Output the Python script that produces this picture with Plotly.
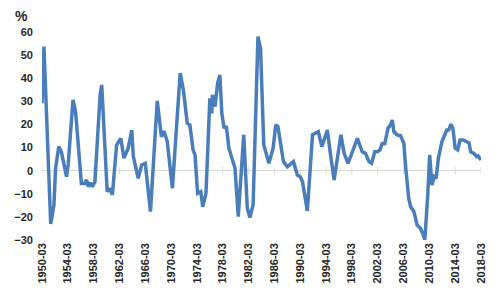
import plotly.graph_objects as go

# decimal-year positions of readings and values (%)
years = [1950.0, 1950.3, 1951.35, 1951.85, 1952.1, 1952.6, 1953.0, 1953.8, 1954.05, 1954.8,
         1955.2, 1956.1, 1956.6, 1956.9, 1957.15, 1957.5, 1957.8, 1958.2, 1959.0, 1959.25,
         1960.1, 1960.5, 1960.9, 1961.55, 1962.2, 1962.7, 1963.35, 1963.9, 1964.15, 1964.9,
         1965.45, 1966.0, 1966.8, 1967.85, 1968.5, 1968.9, 1969.4, 1970.2, 1971.4, 1971.9,
         1972.5, 1972.9, 1973.4, 1973.7, 1974.1, 1974.6, 1974.9, 1975.4, 1976.0, 1976.3,
         1976.4, 1976.8, 1977.2, 1977.55, 1977.85, 1978.2, 1978.55, 1978.95, 1979.9, 1980.4,
         1981.25, 1981.8, 1982.2, 1982.7, 1983.45, 1983.85, 1984.35, 1985.15, 1985.8, 1986.2,
         1986.55, 1987.4, 1988.0, 1988.95, 1989.55, 1990.0, 1990.35, 1991.1, 1991.9, 1992.3,
         1992.8, 1993.35, 1994.2, 1994.7, 1995.25, 1996.3, 1996.8, 1997.4, 1998.1, 1998.85,
         1999.6, 2000.1, 2000.65, 2001.05, 2001.55, 2001.95, 2002.35, 2002.7, 2003.1, 2003.6,
         2004.0, 2004.25, 2004.5, 2005.0, 2005.55, 2006.05, 2006.3, 2006.8, 2007.1, 2007.6,
         2008.1, 2008.6, 2009.05, 2009.3, 2009.75, 2010.05, 2010.4, 2010.75, 2011.05, 2011.4,
         2011.95, 2012.45, 2012.7, 2013.0, 2013.35, 2013.65, 2014.0, 2014.4, 2014.75, 2015.25,
         2015.8, 2016.15, 2016.4, 2016.9, 2017.3, 2017.55, 2018.0]
values = [29.2, 53.7, -23.1, -14.8, 1.0, 10.4, 8.2, -2.6, 2.5, 30.6,
          25.5, -5.5, -5.5, -4.0, -6.9, -5.2, -6.9, -4.8, 32.8, 37.1,
          -9.1, -7.6, -10.5, 11.1, 14.0, 5.4, 9.7, 17.6, 6.1, -3.3,
          2.5, 3.2, -17.7, 30.2, 14.7, 17.2, 12.6, -7.6, 42.2, 34.9,
          20.5, 19.8, 9.0, 6.8, -9.8, -9.1, -15.6, -9.8, 31.3, 24.8,
          32.8, 27.7, 37.8, 41.4, 24.8, 18.4, 19.2, 9.7, 1.0, -19.9,
          15.5, -16.3, -20.3, -14.8, 58.0, 53.0, 11.1, 3.2, 9.7, 19.8,
          19.0, 3.9, 1.7, 3.9, -1.9, -2.6, -4.8, -17.4, 15.5, 16.2,
          16.9, 10.4, 17.6, 6.8, -4.0, 15.5, 7.5, 3.2, 8.2, 14.0,
          8.2, 7.5, 3.9, 3.2, 8.2, 8.2, 9.0, 11.8, 11.8, 18.4,
          19.8, 21.9, 16.9, 15.5, 15.1, 11.8, 2.5, -11.9, -15.6, -17.7,
          -23.5, -24.9, -27.8, -30.0, -10.5, 6.8, -6.2, -2.6, -3.3, 5.4,
          12.6, 15.5, 17.6, 17.6, 20.1, 18.4, 9.7, 9.0, 13.3, 13.3,
          12.6, 12.0, 8.2, 7.5, 6.1, 6.4, 4.6]

tick_years = list(range(1950, 2019, 4))
tick_labels = [f"{y}-03" for y in tick_years]
y_ticks = [-30, -20, -10, 0, 10, 20, 30, 40, 50, 60]

fig = go.Figure()
fig.add_trace(go.Scatter(
    x=tick_years, y=[0] * len(tick_years), mode="markers",
    marker=dict(symbol="line-ns", size=5, color="#d9d9d9",
                line=dict(color="#d9d9d9", width=1)),
    hoverinfo="skip", showlegend=False))
fig.add_trace(go.Scatter(
    x=years, y=values, mode="lines",
    line=dict(color="#4a7ebb", width=3.5),
    showlegend=False))

fig.update_layout(
    width=500, height=299,
    margin=dict(l=42, r=19, t=32, b=59),
    paper_bgcolor="white", plot_bgcolor="white",
    font=dict(family="Liberation Sans", color="#262626"),
    xaxis=dict(range=[1950, 2018], tickvals=tick_years, ticktext=tick_labels,
               tickangle=-90, showgrid=False, zeroline=False, showline=False,
               ticks="", tickfont=dict(size=11, weight="bold", color="#262626")),
    yaxis=dict(range=[-30, 60], tickvals=y_ticks, showgrid=False,
               zeroline=True, zerolinecolor="#d9d9d9", zerolinewidth=1,
               showline=False, ticks="", ticklabelstandoff=8,
               tickfont=dict(size=11, weight="bold", color="#262626")),
    annotations=[dict(text="<b>%</b>", xref="paper", yref="paper", x=-0.028, y=1.03,
                      xanchor="right", yanchor="bottom", showarrow=False,
                      font=dict(size=14, color="#262626", family="Liberation Sans"))],
)
fig.write_html("out.html")
